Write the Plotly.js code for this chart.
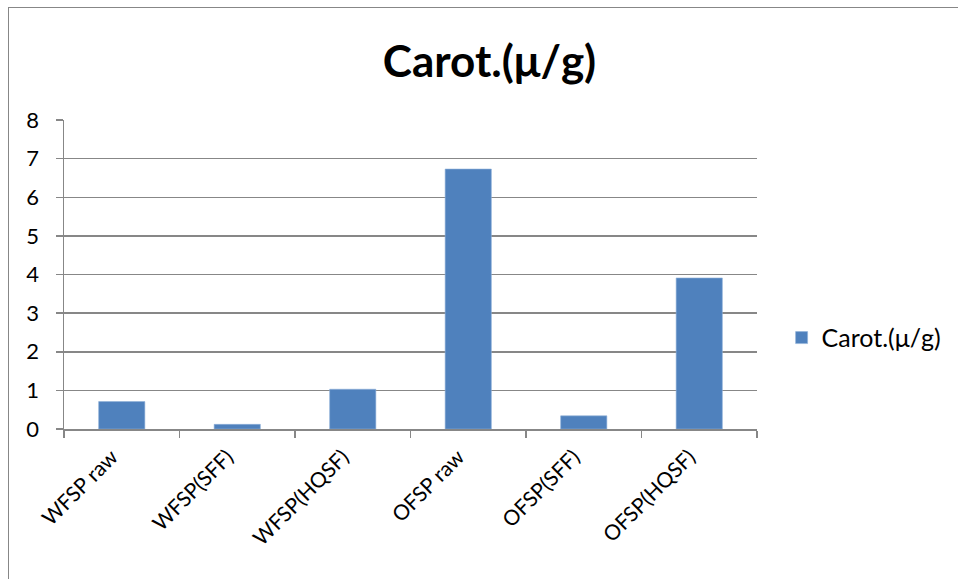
<!DOCTYPE html>
<html>
<head>
<meta charset="utf-8">
<script src="https://cdn.plot.ly/plotly-3.0.1.min.js"></script>
<style>
  html, body { margin: 0; padding: 0; background: #fff; }
  #wrap { position: relative; width: 958px; height: 579px; overflow: hidden; }
  #frame { position: absolute; left: 8px; top: 7px; width: 1100px; height: 700px; border: 1.5px solid #878787; box-sizing: border-box; pointer-events: none; }
  #chart { position: absolute; left: 0; top: 0; width: 958px; height: 579px; }
</style>
</head>
<body>
<div id="wrap">
  <div id="chart"></div>
  <div id="frame"></div>
</div>
<script>
const categories = ["WFSP raw", "WFSP(SFF)", "WFSP(HQSF)", "OFSP raw", "OFSP(SFF)", "OFSP(HQSF)"];
const carotValues = [0.71, 0.12, 1.03, 6.73, 0.34, 3.91];
const seriesName = "Carot.(μ/g)";
const chartTitle = "Carot.(μ/g)";
const yTickValues = [0, 1, 2, 3, 4, 5, 6, 7, 8];

const font = "Lato, 'Open Sans', 'DejaVu Sans', sans-serif";

const trace = {
  type: "bar",
  x: categories,
  y: carotValues,
  name: seriesName,
  marker: { color: "#4F81BD", line: { color: "#8fb0d8", width: 0.6 } },
  showlegend: true,
  hoverinfo: "x+y"
};

const layout = {
  width: 958,
  height: 579,
  margin: { l: 64, r: 200, t: 120, b: 150 },
  paper_bgcolor: "#ffffff",
  plot_bgcolor: "#ffffff",
  font: { family: font, color: "#000", size: 22 },
  bargap: 0.6,
  title: {
    text: "<b>" + chartTitle + "</b>",
    font: { family: font, size: 44, color: "#000" },
    x: 0.511, xref: "container", xanchor: "center",
    y: 0.893, yref: "container", yanchor: "middle"
  },
  xaxis: {
    type: "category",
    tickangle: -45,
    ticks: "outside",
    tickson: "boundaries",
    ticklen: 7,
    tickwidth: 1.5,
    tickcolor: "#878787",
    showline: true,
    linecolor: "#878787",
    linewidth: 1.5,
    showgrid: false,
    ticklabelstandoff: 6,
    ticklabelshift: -10,
    tickfont: { family: font, size: 21, color: "#000" },
    fixedrange: true
  },
  yaxis: {
    range: [0, 8],
    tickvals: yTickValues,
    ticks: "outside",
    ticklen: 7,
    tickwidth: 1.5,
    tickcolor: "#878787",
    showline: true,
    linecolor: "#878787",
    linewidth: 1.5,
    showgrid: true,
    gridcolor: "#878787",
    gridwidth: 1.5,
    zeroline: false,
    ticklabelstandoff: 12,
    tickfont: { family: font, size: 22, color: "#000" },
    fixedrange: true
  },
  legend: {
    x: 1.034, xanchor: "left",
    y: 0.295, yanchor: "middle",
    font: { family: font, size: 25, color: "#000" },
    bgcolor: "rgba(0,0,0,0)",
    itemwidth: 30
  }
};

Plotly.newPlot("chart", [trace], layout, { displayModeBar: false, staticPlot: true });
</script>
</body>
</html>
